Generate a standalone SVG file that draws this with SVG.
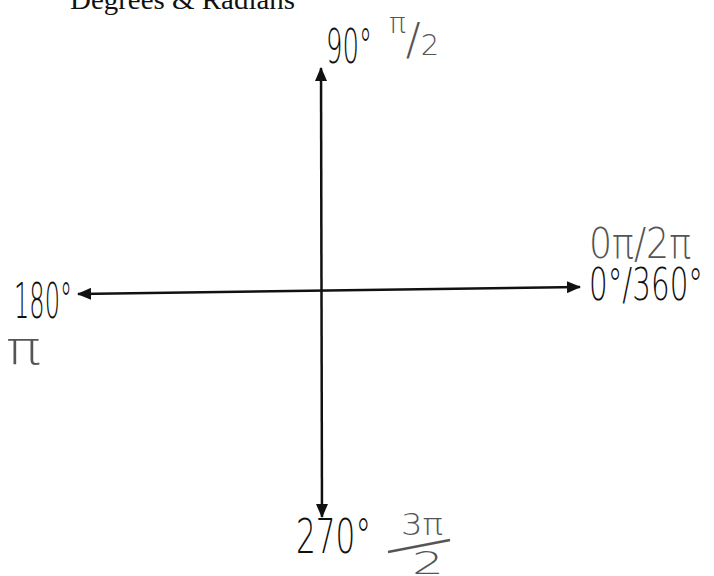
<svg xmlns="http://www.w3.org/2000/svg" width="714" height="576" viewBox="0 0 714 576">
  <style>
    .title { font-family: "Liberation Serif", "Times New Roman", serif; font-size: 28px; fill: #111; }
    .hw { font-family: "DejaVu Sans", "Liberation Sans", sans-serif; font-weight: 200; fill: #111; }
    .pencil { fill: #555; }
    .axis { stroke: #111; stroke-width: 2.5; fill: none; }
  </style>
  <defs>
    <marker id="arrow" viewBox="0 0 14 12" refX="13" refY="6" markerWidth="14" markerHeight="12" markerUnits="userSpaceOnUse" orient="auto-start-reverse">
      <path d="M0,0 L14,6 L0,12 Z" fill="#111"/>
    </marker>
  </defs>
  <rect width="714" height="576" fill="#fff"/>

  <g id="title">
    <text class="title" x="70" y="9" textLength="225" lengthAdjust="spacingAndGlyphs">Degrees &amp; Radians</text>
  </g>

  <g id="connectors">
    <line class="axis" x1="321" y1="68" x2="322" y2="517" marker-start="url(#arrow)" marker-end="url(#arrow)"/>
    <line class="axis" x1="78" y1="294" x2="580" y2="287" marker-start="url(#arrow)" marker-end="url(#arrow)"/>
  </g>

  <g id="label-90">
    <text class="hw" x="326" y="63" font-size="48" textLength="46" lengthAdjust="spacingAndGlyphs">90°</text>
    <text class="hw pencil" x="389" y="55">
      <tspan font-size="28" dy="-22">π</tspan><tspan font-size="44" dy="22">/</tspan><tspan font-size="29">2</tspan>
    </text>
  </g>

  <g id="label-0">
    <text class="hw pencil" x="589" y="258" font-size="42" textLength="102" lengthAdjust="spacingAndGlyphs">0π/2π</text>
    <text class="hw" x="589" y="300" font-size="44" textLength="114" lengthAdjust="spacingAndGlyphs">0°/360°</text>
  </g>

  <g id="label-180">
    <text class="hw" x="14" y="318" font-size="50" textLength="58" lengthAdjust="spacingAndGlyphs">180°</text>
    <text class="hw pencil" x="6" y="364" font-size="46" textLength="35" lengthAdjust="spacingAndGlyphs">π</text>
  </g>

  <g id="label-270">
    <text class="hw" x="296" y="553" font-size="48" textLength="75" lengthAdjust="spacingAndGlyphs">270°</text>
    <text class="hw pencil" x="401" y="535" font-size="31" textLength="42" lengthAdjust="spacingAndGlyphs">3π</text>
    <line x1="388" y1="552" x2="450" y2="540" stroke="#555" stroke-width="2.5"/>
    <text class="hw pencil" x="412" y="574" font-size="32" textLength="32" lengthAdjust="spacingAndGlyphs">2</text>
  </g>
</svg>
